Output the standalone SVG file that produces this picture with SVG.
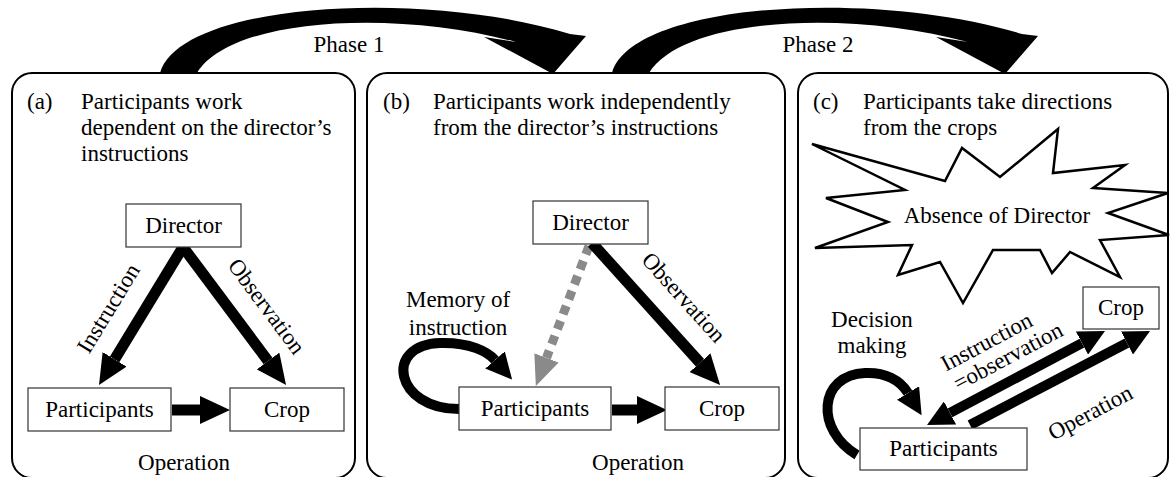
<svg xmlns="http://www.w3.org/2000/svg" width="1171" height="477" viewBox="0 0 1171 477">
  <style>
    .t { font-family: "Liberation Serif", "Times New Roman", serif; font-size: 23px; fill: #000; }
    .m { text-anchor: middle; }
    .panel { fill: #fff; stroke: #000; stroke-width: 2; }
    .box { fill: #fff; stroke: #333; stroke-width: 1.2; }
    .shaft { fill: none; stroke: #000; stroke-width: 11; }
    .thin { fill: none; stroke: #000; stroke-width: 10; }
    .dash { fill: none; stroke: #8a8a8a; stroke-width: 9; stroke-dasharray: 9 7; }
    .star { fill: #fff; stroke: #000; stroke-width: 2.5; stroke-linejoin: miter; }
  </style>
  <defs>
    <marker id="head" markerUnits="userSpaceOnUse" viewBox="0 0 30 28" markerWidth="30" markerHeight="28" refX="0" refY="14" orient="auto-start-reverse">
      <path d="M0,0 L30,14 L0,28 z" fill="#000"/>
    </marker>
    <marker id="headS" markerUnits="userSpaceOnUse" viewBox="0 0 26 26" markerWidth="26" markerHeight="26" refX="0" refY="13" orient="auto-start-reverse">
      <path d="M0,0 L26,13 L0,26 z" fill="#000"/>
    </marker>
    <marker id="headG" markerUnits="userSpaceOnUse" viewBox="0 0 30 26" markerWidth="30" markerHeight="26" refX="0" refY="13" orient="auto">
      <path d="M0,0 L30,13 L0,26 z" fill="#8a8a8a"/>
    </marker>
    <!-- curved phase transition arrow, drawn once and reused -->
    <path id="phaseArrow" d="M160,73 C180,3 420,-12 570,34 L586,36 L553,74 L484,37 L516,42 C400,10 232,16 197,73 Z" fill="#000"/>
  </defs>

  <!-- panels -->
  <g id="panel-a">
    <rect class="panel" x="12" y="73" width="343" height="405" rx="20"/>
    <text class="t" x="27" y="109">(a)</text>
    <text class="t" x="81" y="109">Participants work</text>
    <text class="t" x="81" y="135">dependent on the director’s</text>
    <text class="t" x="81" y="161">instructions</text>
  </g>
  <g id="panel-b">
    <rect class="panel" x="367" y="73" width="418" height="405" rx="20"/>
    <text class="t" x="383" y="109">(b)</text>
    <text class="t" x="433" y="109">Participants work independently</text>
    <text class="t" x="433" y="135">from the director’s instructions</text>
  </g>
  <g id="panel-c">
    <rect class="panel" x="798" y="73" width="370" height="405" rx="20"/>
    <text class="t" x="813" y="109">(c)</text>
    <text class="t" x="863" y="109">Participants take directions</text>
    <text class="t" x="863" y="135">from the crops</text>
  </g>

  <!-- phase transitions -->
  <g id="phase-1">
    <use href="#phaseArrow"/>
    <text class="t m" x="349" y="52" font-size="21">Phase 1</text>
  </g>
  <g id="phase-2">
    <use href="#phaseArrow" transform="translate(452,0)"/>
    <text class="t m" x="818" y="52" font-size="21">Phase 2</text>
  </g>

  <!-- connectors -->
  <g id="connectors">
    <!-- panel a -->
    <line class="shaft" x1="183" y1="247" x2="114.6" y2="359.4" marker-end="url(#head)"/>
    <line class="shaft" x1="183" y1="247" x2="268.1" y2="361" marker-end="url(#head)"/>
    <line class="shaft" x1="172" y1="410" x2="200" y2="410" stroke-width="13" marker-end="url(#head)"/>
    <!-- panel b -->
    <line class="dash" x1="589" y1="246" x2="546.5" y2="357.9" marker-end="url(#headG)"/>
    <line class="shaft" x1="592" y1="243" x2="700" y2="362.7" marker-end="url(#head)"/>
    <line class="shaft" x1="612" y1="410" x2="637" y2="410" stroke-width="13" marker-end="url(#head)"/>
    <path class="thin" d="M459,409 C395,409 383,345 440,343 C470,342 488,352 495,360" marker-end="url(#headS)"/>
    <!-- panel c -->
    <path class="thin" d="M857,455 C815,430 818,375 865,373 C885,372 900,380 908,393" marker-end="url(#headS)"/>
    <line class="thin" x1="950" y1="412.9" x2="1082" y2="343.1" marker-start="url(#headS)" marker-end="url(#headS)"/>
    <line class="thin" x1="970" y1="425" x2="1127" y2="343" marker-end="url(#headS)"/>
  </g>

  <!-- panel a nodes -->
  <g id="a-director">
    <rect class="box" x="126" y="204" width="115" height="43"/>
    <text class="t m" x="183.5" y="233">Director</text>
  </g>
  <g id="a-participants">
    <rect class="box" x="28" y="388" width="143" height="43"/>
    <text class="t m" x="99.5" y="417">Participants</text>
  </g>
  <g id="a-crop">
    <rect class="box" x="230" y="388" width="114" height="43"/>
    <text class="t m" x="287" y="417">Crop</text>
  </g>
  <g id="a-labels">
    <text class="t m" transform="translate(108,308) rotate(-58.7)" dy="0.35em">Instruction</text>
    <text class="t m" transform="translate(267,306) rotate(53.3)" dy="0.35em">Observation</text>
    <text class="t m" x="184" y="470">Operation</text>
  </g>

  <!-- panel b nodes -->
  <g id="b-director">
    <rect class="box" x="533" y="201" width="115" height="43"/>
    <text class="t m" x="590.5" y="230">Director</text>
  </g>
  <g id="b-participants">
    <rect class="box" x="459" y="387" width="152" height="43"/>
    <text class="t m" x="535" y="416">Participants</text>
  </g>
  <g id="b-crop">
    <rect class="box" x="665" y="387" width="114" height="43"/>
    <text class="t m" x="722" y="416">Crop</text>
  </g>
  <g id="b-labels">
    <text class="t m" x="458" y="307">Memory of</text>
    <text class="t m" x="458" y="335">instruction</text>
    <text class="t m" transform="translate(684,297) rotate(48)" dy="0.35em">Observation</text>
    <text class="t m" x="638" y="470">Operation</text>
  </g>

  <!-- panel c nodes -->
  <g id="c-absence">
    <polygon class="star" points="812,144 945,181 962,148 1000,177 1058,129 1053,173 1125,165 1093,188 1168,193 1108,213 1169,235 1100,240 1120,277 1070,252 1052,273 1040,250 993,250 963,303 940,262 898,275 912,245 815,248 888,222 826,198 905,190"/>
    <text class="t m" x="997" y="223">Absence of Director</text>
  </g>
  <g id="c-crop">
    <rect class="box" x="1083" y="287" width="76" height="42"/>
    <text class="t m" x="1121" y="315">Crop</text>
  </g>
  <g id="c-participants">
    <rect class="box" x="860" y="428" width="167" height="42"/>
    <text class="t m" x="943.5" y="456">Participants</text>
  </g>
  <g id="c-labels">
    <text class="t m" x="872" y="327">Decision</text>
    <text class="t m" x="872" y="353">making</text>
    <g transform="translate(1000,350) rotate(-28)">
      <text class="t m" x="-8" y="-6">Instruction</text>
      <text class="t m" x="4" y="17">=observation</text>
    </g>
    <text class="t m" transform="translate(1090,412) rotate(-28)" dy="0.35em">Operation</text>
  </g>
</svg>
